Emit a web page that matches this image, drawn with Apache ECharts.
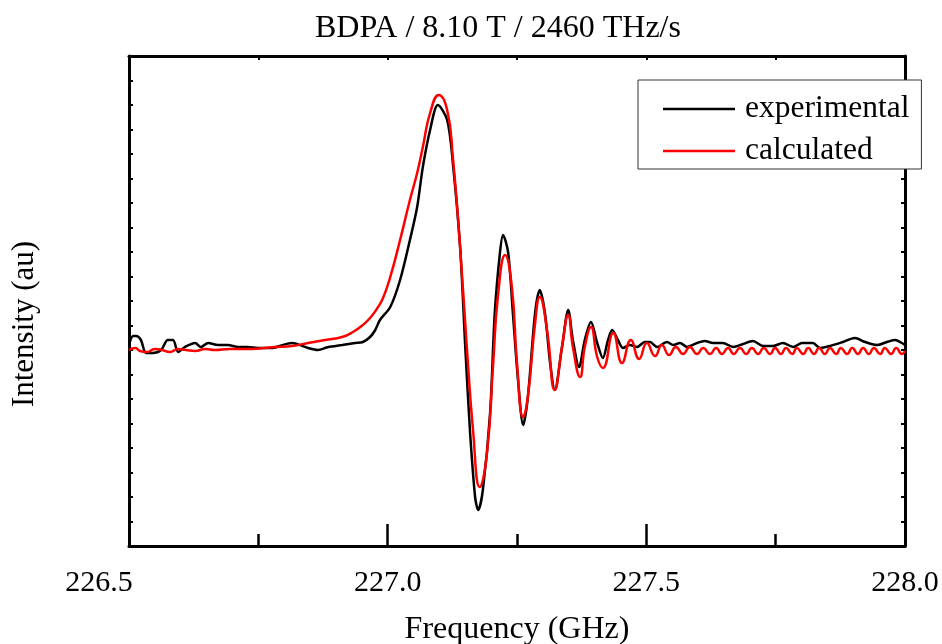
<!DOCTYPE html>
<html>
<head>
<meta charset="utf-8">
<script src="https://cdn.jsdelivr.net/npm/echarts@6/dist/echarts.min.js"></script>
<style>html,body{margin:0;padding:0;background:#fff;}#c{width:942px;height:644px;}</style>
</head>
<body>
<div id="c"></div>
<script>
// Experimental trace (frequency GHz, intensity au)
const expFreq = [226.500, 226.508, 226.514, 226.523, 226.533, 226.546, 226.562, 226.575, 226.585, 226.595,
  226.608, 226.628, 226.639, 226.653, 226.672, 226.691, 226.711, 226.730, 226.749, 226.774,
  226.815, 226.846, 226.865, 226.885, 226.912, 226.937, 226.952, 226.966, 226.976, 226.985,
  227.005, 227.024, 227.043, 227.057, 227.068, 227.082, 227.097, 227.115, 227.126, 227.140,
  227.150, 227.159, 227.169, 227.175, 227.184, 227.198, 227.207, 227.217, 227.223, 227.233,
  227.242, 227.252, 227.262, 227.271, 227.285, 227.294, 227.304, 227.314, 227.323, 227.337,
  227.349, 227.358, 227.370, 227.381, 227.393, 227.405, 227.416, 227.426, 227.434, 227.445,
  227.455, 227.468, 227.482, 227.497, 227.507, 227.521, 227.540, 227.552, 227.565, 227.579,
  227.598, 227.613, 227.629, 227.648, 227.668, 227.687, 227.706, 227.726, 227.745, 227.764,
  227.784, 227.801, 227.822, 227.836, 227.855, 227.880, 227.903, 227.923, 227.946, 227.965,
  227.981, 227.994, 228.000];
const expInt = [5, 14, 14, 10, -3, -3, 0, 10, 10, -2,
  3, 7, 3, 7, 5, 5, 3, 3, 2, 2,
  7, 2, 0, 3, 5, 7, 8, 13, 20, 30,
  43, 70, 110, 143, 183, 220, 245, 230, 187, 103,
  3, -80, -147, -160, -140, -63, 37, 97, 115, 97,
  37, -30, -75, -47, 37, 60, 37, -13, -40, 3,
  40, 10, -17, 10, 28, 7, -8, 10, 20, 10,
  2, 5, 3, 8, 8, 3, 8, 5, 7, 3,
  7, 9, 7, 7, 3, 6, 9, 4, 4, 7,
  3, 7, 7, 2, 4, 8, 12, 8, 5, 8,
  10, 7, 5];

// Calculated trace
const calcFreq = [226.500, 226.512, 226.521, 226.535, 226.550, 226.564, 226.579, 226.595, 226.610, 226.628,
  226.647, 226.666, 226.695, 226.734, 226.782, 226.815, 226.846, 226.879, 226.912, 226.933,
  226.952, 226.966, 226.979, 226.991, 227.005, 227.024, 227.043, 227.057, 227.068, 227.082,
  227.099, 227.115, 227.126, 227.140, 227.153, 227.165, 227.178, 227.192, 227.204, 227.213,
  227.227, 227.240, 227.250, 227.262, 227.271, 227.285, 227.294, 227.308, 227.323, 227.337,
  227.349, 227.358, 227.372, 227.381, 227.393, 227.405, 227.416, 227.436, 227.453, 227.470,
  227.486, 227.501, 227.517, 227.530, 227.544, 227.557, 227.571, 227.584, 227.598, 227.610,
  227.623, 227.635, 227.646, 227.658, 227.669, 227.681, 227.693, 227.704, 227.716, 227.727,
  227.739, 227.749, 227.760, 227.770, 227.782, 227.791, 227.803, 227.813, 227.824, 227.834,
  227.845, 227.855, 227.867, 227.876, 227.888, 227.898, 227.909, 227.919, 227.930, 227.940,
  227.952, 227.961, 227.973, 227.983, 227.994, 228.000];
const calcInt = [0, 2, -1, -2, 1, 0, -2, 1, 0, -1,
  1, 0, 1, 1, 3, 4, 7, 10, 13, 18,
  25, 32, 41, 52, 73, 110, 150, 177, 203, 237,
  255, 240, 193, 103, 3, -80, -137, -103, -13, 53,
  95, 63, -13, -67, -47, 27, 53, 20, -40, 3,
  35, 3, -27, 3, 23, -7, -18, 17, -13, 10,
  -9, 7, -6, 5, -5, 3, -4, 3, -4, 2,
  -4, 2, -4, 2, -4, 2, -4, 2, -4, 2,
  -4, 2, -4, 2, -4, 2, -4, 2, -4, 2,
  -4, 2, -4, 2, -4, 2, -4, 2, -4, 2,
  -4, 2, -4, 2, -4, -1];

const seriesNames = ['experimental', 'calculated'];
const titleText = 'BDPA / 8.10 T / 2460 THz/s';
const xName = 'Frequency (GHz)';
const yName = 'Intensity (au)';

const FONT = 'Liberation Serif, Times New Roman, serif';
const chart = echarts.init(document.getElementById('c'), null, {renderer: 'canvas'});

const expData = expFreq.map((f, i) => [f, expInt[i]]);
const calcData = calcFreq.map((f, i) => [f, calcInt[i]]);

const axisLine = {show: true, onZero: false, lineStyle: {color: '#000', width: 3}};

chart.setOption({
  animation: false,
  backgroundColor: '#fff',
  title: {
    text: titleText, left: 315, top: 13, padding: 0,
    textStyle: {fontFamily: FONT, fontSize: 32, fontWeight: 'normal', color: '#000'}
  },
  grid: {left: 129, right: 37, top: 56, bottom: 98, containLabel: false, outerBoundsMode: 'none'},
  legend: {
    data: seriesNames, orient: 'vertical', left: 638, top: 80,
    padding: [13, 12, 2, 25], itemGap: 10, itemWidth: 72, itemHeight: 2.5,
    icon: 'rect', backgroundColor: '#fff', borderColor: '#333', borderWidth: 1,
    textStyle: {fontFamily: FONT, fontSize: 31.5, color: '#000', padding: [0, 0, 0, 5]},
    z: 10
  },
  xAxis: [{
    type: 'value', min: 226.5, max: 228.0, interval: 0.5, position: 'bottom',
    axisLine: axisLine,
    axisTick: {show: true, inside: true, length: 22, lineStyle: {color: '#000', width: 2.5}},
    minorTick: {show: true, splitNumber: 2, length: 12, lineStyle: {color: '#000', width: 2.5}},
    splitLine: {show: false}, minorSplitLine: {show: false},
    axisLabel: {
      margin: 22, fontFamily: FONT, fontSize: 30, color: '#000',
      formatter: v => (v === 226.5 ? '{first|' + v.toFixed(1) + '}' : v.toFixed(1)),
      rich: {first: {fontFamily: FONT, fontSize: 30, color: '#000', padding: [0, 60, 0, 0]}}
    },
    name: xName, nameLocation: 'middle', nameGap: 68,
    nameTextStyle: {fontFamily: FONT, fontSize: 32, color: '#000'}
  }, {
    type: 'value', min: 226.5, max: 228.0, interval: 0.25, position: 'top',
    axisLine: axisLine,
    axisTick: {show: true, inside: true, length: 4, lineStyle: {color: '#000', width: 2}},
    axisLabel: {show: false}, splitLine: {show: false}
  }],
  yAxis: [{
    type: 'value', min: -196, max: 294, interval: 24.5, position: 'left',
    axisLine: axisLine,
    axisTick: {show: true, inside: true, length: 4, lineStyle: {color: '#000', width: 2}},
    axisLabel: {show: false}, splitLine: {show: false}
  }, {
    type: 'value', min: -196, max: 294, interval: 24.5, position: 'right',
    axisLine: axisLine,
    axisTick: {show: true, inside: true, length: 4, lineStyle: {color: '#000', width: 2}},
    axisLabel: {show: false}, splitLine: {show: false}
  }],
  graphic: [{
    type: 'text', x: 25, y: 324, rotation: Math.PI / 2,
    style: {text: yName, font: '31px ' + FONT, fill: '#000', align: 'center', verticalAlign: 'middle'}
  }],
  series: [{
    name: seriesNames[0], type: 'line', data: expData, showSymbol: false, smooth: 0.3,
    lineStyle: {color: '#000', width: 2.5}, itemStyle: {color: '#000'}, z: 2
  }, {
    name: seriesNames[1], type: 'line', data: calcData, showSymbol: false, smooth: 0.5,
    lineStyle: {color: '#ff0000', width: 2.5}, itemStyle: {color: '#ff0000'}, z: 3
  }]
});
</script>
</body>
</html>
